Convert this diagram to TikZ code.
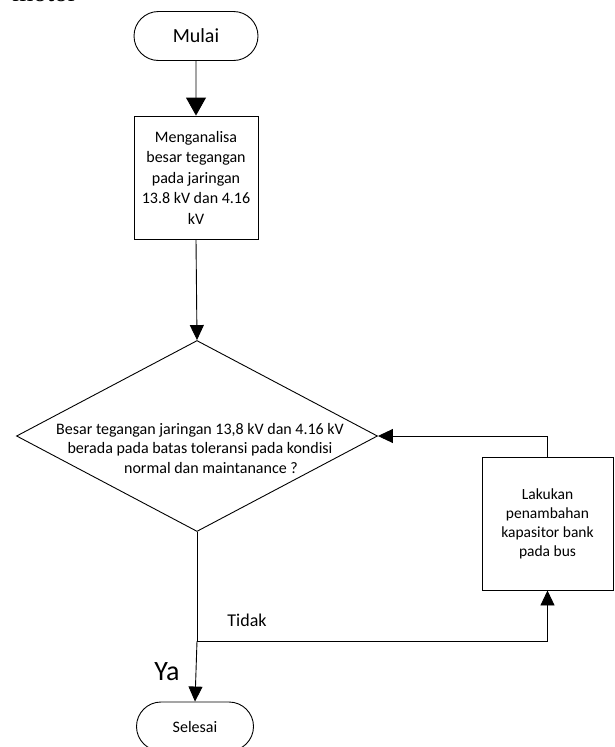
\documentclass[tikz,border=0pt]{standalone}
\usepackage{fontspec}
\setmainfont{Carlito}
\newfontfamily\serifdoc{Liberation Serif}
\usetikzlibrary{arrows.meta,shapes.geometric,shapes.misc}

\begin{document}
\begin{tikzpicture}[x=1pt,y=-1pt,line width=0.9pt,
  terminal/.style={draw, rounded rectangle, minimum width=124pt, minimum height=49pt, inner sep=0pt},
  proses/.style={draw, rectangle, align=center, inner sep=0pt},
  keputusan/.style={draw, diamond, minimum width=361pt, minimum height=191pt, inner sep=0pt},
  panah/.style={-{Triangle[width=14pt,length=15pt]}},
  panahbesar/.style={-{Triangle[width=20pt,length=18pt]}}]
            \useasboundingbox (0,0) rectangle (615,747);

            % teks halaman yang terpotong
            \node[font=\serifdoc\fontsize{27}{30}\selectfont, anchor=base west, inner sep=0pt] (judul) at (12,1) {motor};

            \node[terminal, font=\fontsize{20}{24}\selectfont] (mulai) at (196,36) {Mulai};
            \node[proses, minimum width=124pt, minimum height=123pt, font=\fontsize{16}{20.5}\selectfont] (analisa) at (196,177.5)
                {Menganalisa\\besar tegangan\\pada jaringan\\13.8 kV dan 4.16\\kV};
            \node[keputusan] (cek) at (197,436) {};
            \node[align=center, font=\fontsize{16}{19.5}\selectfont] (tanya) at (200,448)
                {Besar tegangan jaringan 13,8 kV dan 4.16 kV\\berada pada batas toleransi pada kondisi\\\hspace*{22pt}normal dan maintanance ?};
            \node[proses, minimum width=131pt, minimum height=133pt, font=\fontsize{15.5}{19}\selectfont] (kapasitor) at (547.5,523.5)
                {Lakukan\\penambahan\\kapasitor bank\\pada bus};
            \node[terminal, minimum width=117pt, font=\fontsize{16}{19}\selectfont] (selesai) at (195,726.5) {Selesai};
            \coordinate (cabang) at (197,641);

            \draw[panahbesar] (mulai) -- (analisa);
            \draw[panah] (analisa.south) -- (cek.north);
            \draw (cek.south) -- (cabang);
            \draw[panah] (cabang) -- (selesai.north);
            \draw[panah] (cabang) -| (kapasitor.south);
            \draw[panah] (kapasitor.north) |- (cek.east);

            \node[font=\fontsize{18}{22}\selectfont] (tidak) at (247,620) {Tidak};
            \node[font=\fontsize{28}{32}\selectfont] (ya) at (167,672) {Ya};

        \end{tikzpicture}
\end{document}
